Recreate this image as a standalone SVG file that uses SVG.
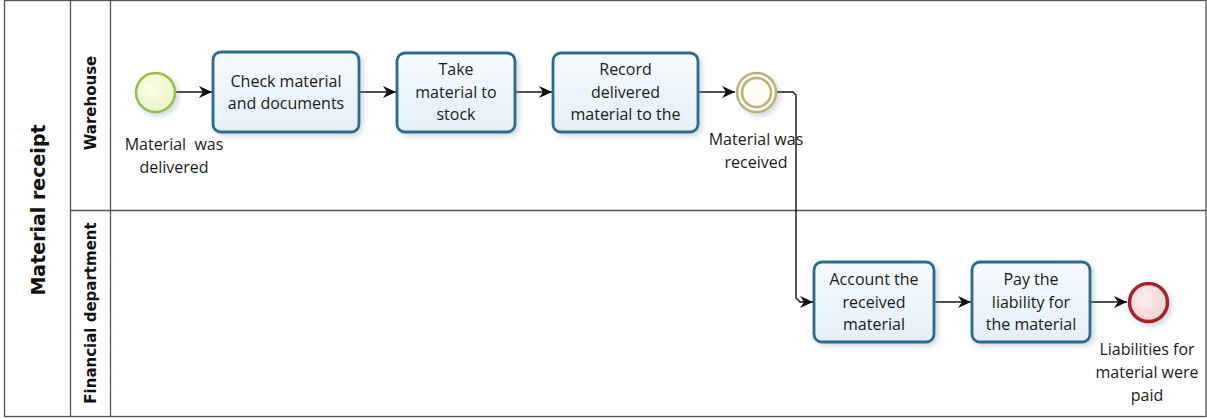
<svg xmlns="http://www.w3.org/2000/svg" width="1207" height="419" viewBox="0 0 1207 419">
<defs>
<linearGradient id="taskFill" x1="0" y1="0" x2="0" y2="1">
<stop offset="0" stop-color="#f7fbfe"/>
<stop offset="1" stop-color="#e3eff8"/>
</linearGradient>
<radialGradient id="startFill" cx="0.4" cy="0.4" r="0.7">
<stop offset="0" stop-color="#fbfde9"/>
<stop offset="1" stop-color="#e8f5bd"/>
</radialGradient>
<radialGradient id="endFill" cx="0.4" cy="0.4" r="0.7">
<stop offset="0" stop-color="#fbeeee"/>
<stop offset="1" stop-color="#f2cfcf"/>
</radialGradient>
<filter id="shadow" x="-20%" y="-20%" width="150%" height="150%">
<feDropShadow dx="3" dy="3" stdDeviation="2.5" flood-color="#7f96a8" flood-opacity="0.35"/>
</filter>
<marker id="arrow" viewBox="0 0 14 14" refX="13" refY="7" markerWidth="14" markerHeight="14" markerUnits="userSpaceOnUse" orient="auto">
<path d="M0,1 L13,7 L0,13 L4,7 Z" fill="#111"/>
</marker>
</defs>
<style>
.frame{fill:#fff;stroke:#555;stroke-width:1.3}
.div{stroke:#555;stroke-width:1.3;fill:none}
.task{fill:url(#taskFill);stroke:#2c6a8c;stroke-width:2.8}
.lbl{font-family:"Open Sans","Noto Sans","DejaVu Sans",sans-serif;font-size:16px;fill:#1a1a1a;text-anchor:middle;white-space:pre}
.hdr{font-family:"DejaVu Sans","Liberation Sans",sans-serif;font-weight:bold;fill:#111;text-anchor:middle}
.flow{fill:none;stroke:#111;stroke-width:1.4;marker-end:url(#arrow)}
</style>

<g id="pool">
<rect class="frame" x="4.5" y="0.5" width="1201.5" height="416"/>
<line class="div" x1="70.5" y1="0.5" x2="70.5" y2="416.5"/>
<line class="div" x1="110.5" y1="0.5" x2="110.5" y2="416.5"/>
<line class="div" x1="70.5" y1="210.5" x2="1206" y2="210.5"/>
<text class="hdr" font-size="19" transform="translate(45,210) rotate(-90)">Material receipt</text>
</g>
<g id="lane-warehouse">
<text class="hdr" font-size="15" transform="translate(96,103) rotate(-90)">Warehouse</text>
</g>
<g id="lane-financial">
<text class="hdr" font-size="15" transform="translate(96,313) rotate(-90)">Financial department</text>
</g>

<g id="connectors">
<line class="flow" x1="176" y1="92" x2="212" y2="92"/>
<line class="flow" x1="360" y1="92" x2="396" y2="92"/>
<line class="flow" x1="516" y1="92" x2="552" y2="92"/>
<line class="flow" x1="699" y1="92" x2="735" y2="92"/>
<path class="flow" d="M777,92 H793 L796,95 V298 L800,302 H813"/>
<line class="flow" x1="935" y1="302" x2="971" y2="302"/>
<line class="flow" x1="1091" y1="302" x2="1127" y2="302"/>
</g>

<g id="start-event">
<circle cx="155.5" cy="92.5" r="19.5" fill="url(#startFill)" stroke="#98be4a" stroke-width="2.5" filter="url(#shadow)"/>
<text class="lbl" x="174" y="150">Material  was</text>
<text class="lbl" x="174" y="173">delivered</text>
</g>

<g id="task-check">
<rect class="task" x="213" y="52" width="146" height="80" rx="8" filter="url(#shadow)"/>
<text class="lbl" x="286" y="87">Check material</text>
<text class="lbl" x="286" y="109">and documents</text>
</g>

<g id="task-take">
<rect class="task" x="397" y="53" width="118" height="79" rx="8" filter="url(#shadow)"/>
<text class="lbl" x="456" y="75">Take</text>
<text class="lbl" x="456" y="98">material to</text>
<text class="lbl" x="456" y="120">stock</text>
</g>

<g id="task-record">
<rect class="task" x="553" y="53" width="145" height="79" rx="8" filter="url(#shadow)"/>
<text class="lbl" x="625.5" y="75">Record</text>
<text class="lbl" x="625.5" y="98">delivered</text>
<text class="lbl" x="625.5" y="120">material to the</text>
</g>

<g id="intermediate-event">
<circle cx="756.5" cy="92.5" r="19.5" fill="#fdfcf0" stroke="#b8b27c" stroke-width="2.5" filter="url(#shadow)"/>
<circle cx="756.5" cy="92.5" r="14.5" fill="none" stroke="#b8b27c" stroke-width="2.5"/>
<text class="lbl" x="756" y="145">Material was</text>
<text class="lbl" x="756" y="168">received</text>
</g>

<g id="task-account">
<rect class="task" x="814" y="262" width="120" height="80" rx="8" filter="url(#shadow)"/>
<text class="lbl" x="874" y="285">Account the</text>
<text class="lbl" x="874" y="308">received</text>
<text class="lbl" x="874" y="330">material</text>
</g>

<g id="task-pay">
<rect class="task" x="972" y="262" width="118" height="80" rx="8" filter="url(#shadow)"/>
<text class="lbl" x="1031" y="285">Pay the</text>
<text class="lbl" x="1031" y="308">liability for</text>
<text class="lbl" x="1031" y="330">the material</text>
</g>

<g id="end-event">
<circle cx="1148.5" cy="302.5" r="19" fill="url(#endFill)" stroke="#a4202a" stroke-width="3.5" filter="url(#shadow)"/>
<text class="lbl" x="1147" y="355">Liabilities for</text>
<text class="lbl" x="1147" y="378">material were</text>
<text class="lbl" x="1147" y="401">paid</text>
</g>
</svg>
